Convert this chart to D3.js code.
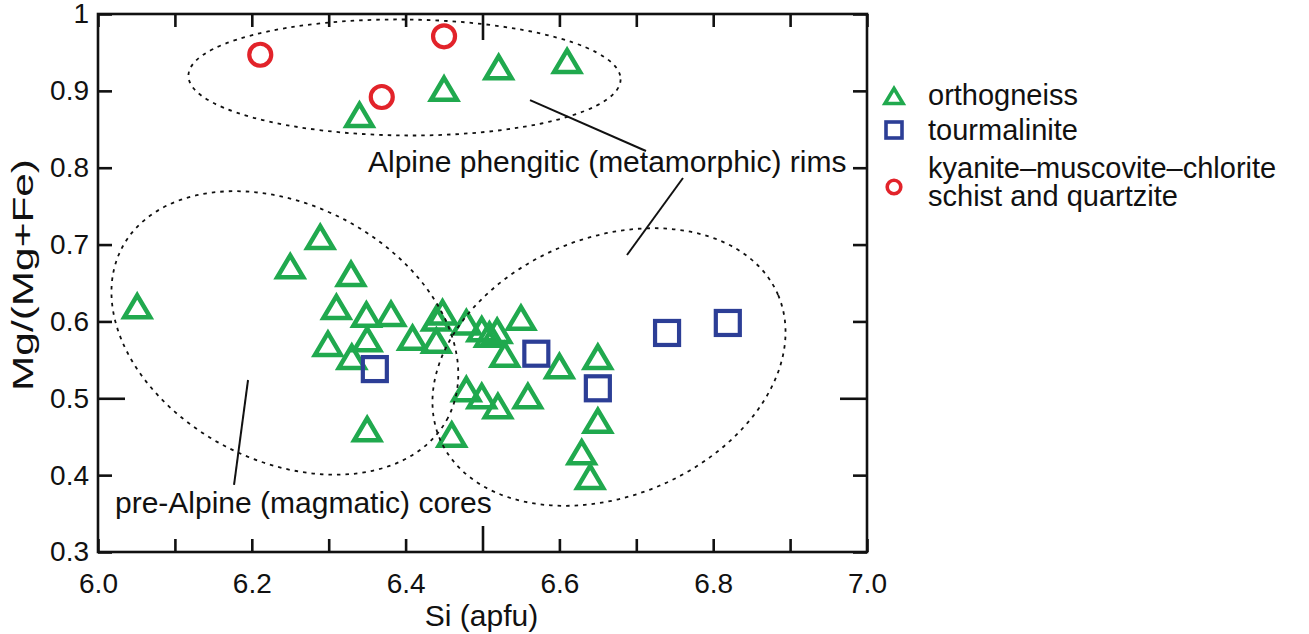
<!DOCTYPE html>
<html>
<head>
<meta charset="utf-8">
<script src="https://cdn.jsdelivr.net/npm/d3@7"></script>
<style>
body { margin: 0; background: #fff; }
text { font-family: "Liberation Sans", Arial, Helvetica, sans-serif; fill: #111; }
</style>
</head>
<body>
<script>
// orthogneiss (green triangles)
var orthoSi = [6.340, 6.450, 6.521, 6.610,
	6.051, 6.289, 6.250, 6.329, 6.310, 6.349, 6.381, 6.299, 6.350, 6.330, 6.409, 6.440, 6.440, 6.448, 6.350,
	6.479, 6.499, 6.509, 6.519, 6.550, 6.529, 6.600, 6.650, 6.479, 6.499, 6.520, 6.559, 6.460, 6.650, 6.629, 6.640];
var orthoMg = [0.870, 0.904, 0.932, 0.940,
	0.621, 0.711, 0.673, 0.663, 0.620, 0.610, 0.611, 0.572, 0.578, 0.555, 0.580, 0.576, 0.605, 0.613, 0.461,
	0.600, 0.591, 0.584, 0.589, 0.606, 0.558, 0.543, 0.555, 0.513, 0.504, 0.491, 0.504, 0.454, 0.472, 0.431, 0.399];

// tourmalinite (blue squares)
var tourSi = [6.360, 6.570, 6.650, 6.740, 6.819];
var tourMg = [0.538, 0.558, 0.513, 0.585, 0.598];

// kyanite-muscovite-chlorite schist and quartzite (red circles)
var kyaSi = [6.211, 6.450, 6.369];
var kyaMg = [0.947, 0.971, 0.892];

var xTicks = [6.0, 6.1, 6.2, 6.3, 6.4, 6.5, 6.6, 6.7, 6.8, 6.9, 7.0];
var xLabels = ["6.0", "", "6.2", "", "6.4", "", "6.6", "", "6.8", "", "7.0"];
var yTicks = [0.3, 0.4, 0.5, 0.6, 0.7, 0.8, 0.9, 1.0];
var yLabels = ["0.3", "0.4", "0.5", "0.6", "0.7", "0.8", "0.9", "1"];

var legendNames = [["orthogneiss"], ["tourmalinite"], ["kyanite\u2013muscovite\u2013chlorite", "schist and quartzite"]];

// dashed field outlines: centre (Si, Mg#), half axes in Si units, rotation in degrees
var fieldCx = [6.3986, 6.243, 6.6645];
var fieldCy = [0.9174, 0.585, 0.5407];
var fieldRx = [0.281, 0.239, 0.239];
var fieldRy = [0.0754, 0.1665, 0.1678];
var fieldAngle = [0.5, 27.5, -23];

var colGreen = "#20a94e", colBlue = "#2c3e96", colRed = "#e2232a";

var margin = {top: 14, right: 442, bottom: 82, left: 98},
	width = 1309 - margin.left - margin.right,
	height = 634 - margin.top - margin.bottom;

var x = d3.scaleLinear().domain([6, 7]).range([0, width]);
var y = d3.scaleLinear().domain([0.3, 1]).range([height, 0]);

var svg = d3.select("body").append("svg")
	.attr("width", 1309)
	.attr("height", 634)
  .append("g")
	.attr("transform", "translate(" + margin.left + "," + margin.top + ")");

function isMid(v, m) { return Math.abs(v - m) < 1e-6; }

// axes, ticks pointing inwards on all four sides
var xAxis = d3.axisBottom(x).tickValues(xTicks).tickSizeInner(-13).tickSizeOuter(0)
	.tickPadding(21).tickFormat(function(d, i) { return xLabels[i]; });
var xTop = d3.axisTop(x).tickValues(xTicks).tickSizeInner(-13).tickSizeOuter(0).tickFormat("");
var yAxis = d3.axisLeft(y).tickValues(yTicks).tickSizeInner(-13).tickSizeOuter(0)
	.tickPadding(9).tickFormat(function(d, i) { return yLabels[i]; });
var yRight = d3.axisRight(y).tickValues(yTicks).tickSizeInner(-13).tickSizeOuter(0).tickFormat("");

var gx = svg.append("g").attr("transform", "translate(0," + height + ")").call(xAxis);
gx.selectAll(".tick line").attr("y2", function(d) { return isMid(d, 6.5) ? -26 : -13; });
var gxt = svg.append("g").call(xTop);
gxt.selectAll(".tick line").attr("y2", function(d) { return isMid(d, 6.5) ? 26 : 13; });
var gy = svg.append("g").call(yAxis);
gy.selectAll(".tick line").attr("x2", function(d) { return isMid(d, 0.5) ? 27 : 14; });
var gyr = svg.append("g").attr("transform", "translate(" + width + ",0)").call(yRight);
gyr.selectAll(".tick line").attr("x2", function(d) { return isMid(d, 0.5) ? -27 : -14; });

svg.selectAll(".domain").remove();
svg.selectAll(".tick line").style("stroke", "#111").style("stroke-width", 2.6);
svg.selectAll(".tick text").style("font-size", "28px").style("fill", "#111");

svg.append("rect")
	.attr("x", 0).attr("y", 0)
	.attr("width", width).attr("height", height)
	.style("fill", "none").style("stroke", "#111").style("stroke-width", 2.6);

svg.append("text")
	.attr("x", width / 2 - 1)
	.attr("y", height + 74)
	.attr("text-anchor", "middle")
	.style("font-size", "30px")
	.text("Si (apfu)");

svg.append("text")
	.attr("transform", "translate(" + (-65) + "," + (height / 2 - 8) + ") rotate(-90)")
	.attr("text-anchor", "middle")
	.attr("textLength", 232)
	.attr("lengthAdjust", "spacingAndGlyphs")
	.style("font-size", "29px")
	.text("Mg/(Mg+Fe)");

// markers
function triPath(w, h) {
	return "M0," + (-h / 2 + 1) + "L" + (w / 2) + "," + (h / 2 + 1) + "L" + (-w / 2) + "," + (h / 2 + 1) + "Z";
}

svg.selectAll(".ortho")
	.data(orthoSi)
	.enter().append("path")
	.attr("class", "ortho")
	.attr("d", triPath(26, 22))
	.attr("transform", function(d, i) { return "translate(" + x(d) + "," + y(orthoMg[i]) + ")"; })
	.style("fill", "none").style("stroke", colGreen).style("stroke-width", 4.5);

svg.selectAll(".tour")
	.data(tourSi)
	.enter().append("rect")
	.attr("class", "tour")
	.attr("x", function(d) { return x(d) - 12; })
	.attr("y", function(d, i) { return y(tourMg[i]) - 12; })
	.attr("width", 24).attr("height", 24)
	.style("fill", "none").style("stroke", colBlue).style("stroke-width", 4.2);

svg.selectAll(".kya")
	.data(kyaSi)
	.enter().append("circle")
	.attr("class", "kya")
	.attr("cx", function(d) { return x(d); })
	.attr("cy", function(d, i) { return y(kyaMg[i]); })
	.attr("r", 11)
	.style("fill", "none").style("stroke", colRed).style("stroke-width", 4.2);

// dashed fields
svg.selectAll(".field")
	.data(fieldCx)
	.enter().append("ellipse")
	.attr("class", "field")
	.attr("transform", function(d, i) { return "translate(" + x(d) + "," + y(fieldCy[i]) + ") rotate(" + fieldAngle[i] + ")"; })
	.attr("rx", function(d, i) { return x(6 + fieldRx[i]) - x(6); })
	.attr("ry", function(d, i) { return x(6 + fieldRy[i]) - x(6); })
	.style("fill", "none").style("stroke", "#111").style("stroke-width", 1.8)
	.style("stroke-dasharray", "3.5,5");

// leader lines and field labels
var leadX1 = [6.5618, 6.7607, 6.1951], leadY1 = [0.888, 0.7866, 0.5238];
var leadX2 = [6.7126, 6.6879, 6.1769], leadY2 = [0.8217, 0.6864, 0.3872];
svg.selectAll(".lead")
	.data(leadX1)
	.enter().append("line")
	.attr("class", "lead")
	.attr("x1", function(d) { return x(d); })
	.attr("y1", function(d, i) { return y(leadY1[i]); })
	.attr("x2", function(d, i) { return x(leadX2[i]); })
	.attr("y2", function(d, i) { return y(leadY2[i]); })
	.style("stroke", "#111").style("stroke-width", 2);

svg.append("text")
	.attr("x", x(6.3511)).attr("y", y(0.7944))
	.style("font-size", "30px")
	.text("Alpine phengitic (metamorphic) rims");

svg.append("text")
	.attr("x", x(6.0221)).attr("y", y(0.3507))
	.style("font-size", "30px")
	.text("pre-Alpine (magmatic) cores");

// legend
var legend = d3.select("svg").append("g").attr("transform", "translate(894,0)");
var legY = [95, 130, 187];

legend.append("path").attr("d", triPath(18, 15))
	.attr("transform", "translate(0," + legY[0] + ")")
	.style("fill", "none").style("stroke", colGreen).style("stroke-width", 3.6);
legend.append("rect").attr("x", -8).attr("y", legY[1] - 8).attr("width", 16).attr("height", 16)
	.style("fill", "none").style("stroke", colBlue).style("stroke-width", 3.6);
legend.append("circle").attr("cx", 0).attr("cy", legY[2]).attr("r", 6.8)
	.style("fill", "none").style("stroke", colRed).style("stroke-width", 3.6);

var legBase = [[105], [140], [178, 206]];
legendNames.forEach(function(lines, i) {
	lines.forEach(function(s, j) {
		legend.append("text")
			.attr("x", 34).attr("y", legBase[i][j])
			.style("font-size", "29px")
			.text(s);
	});
});
</script>
</body>
</html>
